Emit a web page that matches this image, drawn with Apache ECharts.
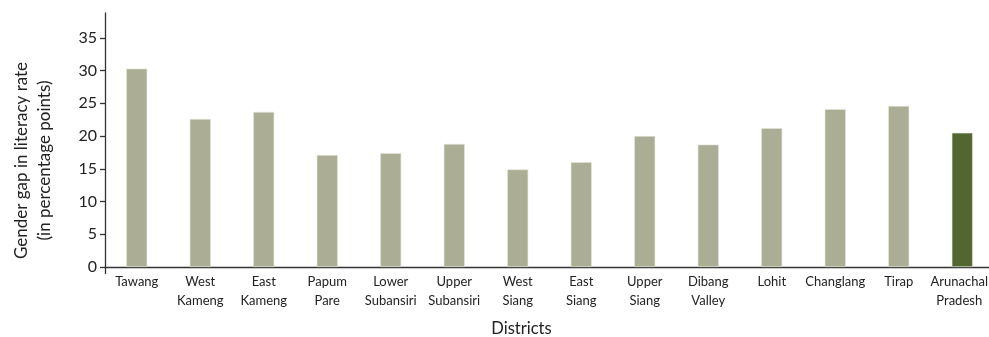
<!DOCTYPE html>
<html>
<head>
<meta charset="utf-8">
<script src="https://cdn.jsdelivr.net/npm/echarts@6/dist/echarts.min.js"></script>
<style>html,body{margin:0;padding:0;background:#fff}#c{width:989px;height:337px}</style>
</head>
<body>
<div id="c"></div>
<script>
var categories = ['Tawang','West\nKameng','East\nKameng','Papum\nPare','Lower\nSubansiri','Upper\nSubansiri','West\nSiang','East\nSiang','Upper\nSiang','Dibang\nValley','Lohit','Changlang','Tirap','Arunachal\nPradesh'];
var values = [30.3, 22.6, 23.7, 17.1, 17.4, 18.8, 14.9, 16.0, 20.0, 18.7, 21.2, 24.1, 24.6, 20.5];
var highlightIndex = 13;
var yTicks = [0, 5, 10, 15, 20, 25, 30, 35];
var yTitle = 'Gender gap in literacy rate\n(in percentage points)';
var xTitle = 'Districts';

var FONT = 'Lato';
var chart = echarts.init(document.getElementById('c'));
chart.setOption({
  animation: false,
  grid: { left: 105, right: -5, top: 13, bottom: 70, outerBoundsMode: 'none', containLabel: false },
  xAxis: {
    type: 'category',
    data: categories.map(function (c, i) {
      return i === categories.length - 1 ? { value: c, textStyle: { padding: [0, 6, 0, 0] } } : c;
    }),
    boundaryGap: true,
    axisLine: { lineStyle: { color: '#333', width: 1.3 } },
    axisTick: { show: true, length: 7, interval: function (i) { return i === 0; }, lineStyle: { color: '#333', width: 1.3 } },
    axisLabel: { color: '#222', fontFamily: FONT, fontSize: 13, lineHeight: 19, margin: 5, interval: 0 }
  },
  yAxis: {
    type: 'value',
    min: 0,
    max: 38.8,
    interval: 5,
    splitLine: { show: false },
    axisLine: { show: true, lineStyle: { color: '#333', width: 1.3 } },
    axisTick: { show: true, length: 5, customValues: yTicks, lineStyle: { color: '#333', width: 1.3 } },
    axisLabel: { color: '#222', fontFamily: FONT, fontSize: 16, margin: 8, customValues: yTicks }
  },
  graphic: [{
    type: 'text',
    x: 33, y: 160.5,
    rotation: Math.PI / 2,
    style: { text: yTitle, fill: '#222', font: '17px ' + FONT, align: 'center', verticalAlign: 'middle', textAlign: 'center', textVerticalAlign: 'middle', lineHeight: 23 }
  }, {
    type: 'text',
    x: 521.5, y: 329,
    style: { text: xTitle, fill: '#222', font: '16.5px ' + FONT, align: 'center', verticalAlign: 'middle', textAlign: 'center', textVerticalAlign: 'middle' }
  }],
  series: [{
    type: 'bar',
    barWidth: 21,
    data: values.map(function (v, i) {
      return { value: v, itemStyle: { color: i === highlightIndex ? '#536630' : '#ABAE94' } };
    }),
    itemStyle: { borderColor: '#e4e6d8', borderWidth: 0.6 }
  }]
});
</script>
</body>
</html>
